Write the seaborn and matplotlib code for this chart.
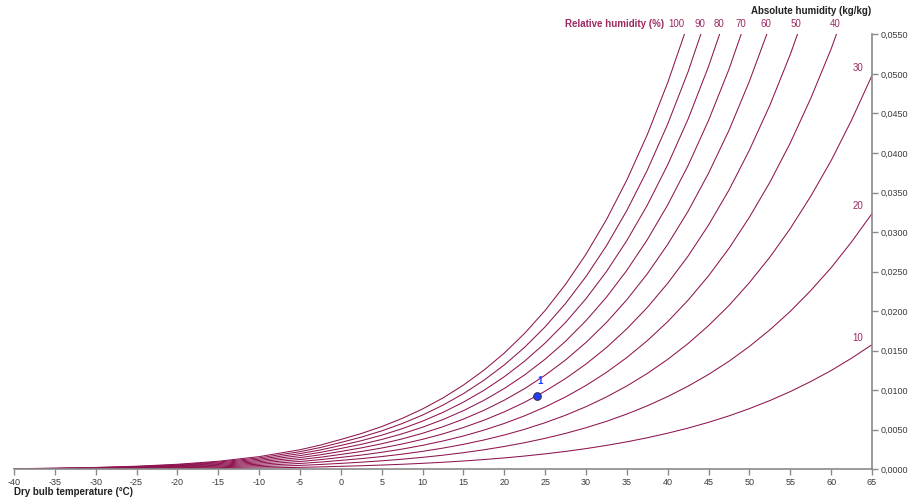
import matplotlib
matplotlib.use("Agg")
import matplotlib.pyplot as plt
import matplotlib.ticker as mticker
import seaborn as sns
import pandas as pd

# Dry bulb temperature (°C)
temps = [-40, -35, -30, -25, -20, -15, -10, -5, -2.5, 0, 2.5, 5, 7.5, 10, 12.5, 15, 17.5,
         20, 22.5, 25, 27.5, 30, 32.5, 35, 37.5, 40, 42.5, 45, 47.5, 50, 52.5, 55, 57.5,
         60, 62.5, 65]

# Absolute humidity (kg/kg) along each relative-humidity curve
rh_10 = [0.0000079, 0.0000137, 0.0000233, 0.0000389, 0.0000634, 0.0001015, 0.0001595,
         0.0002467, 0.0003049, 0.0003754, 0.0004494, 0.0005361, 0.0006372, 0.0007549,
         0.0008912, 0.0010489, 0.0012305, 0.0014393, 0.0016785,
         0.0019520, 0.0022629, 0.0026175, 0.0030189, 0.0034748, 0.0039879, 0.0045668,
         0.0052139, 0.0059431, 0.0067576, 0.0076761, 0.0086931, 0.0098293, 0.0110982,
         0.0124901, 0.0140551, 0.0157614]
rh_20 = [0.0000158, 0.0000274, 0.0000467, 0.0000778, 0.0001269, 0.0002030, 0.0003191,
         0.0004937, 0.0006101, 0.0007513, 0.0008995, 0.0010731, 0.0012758, 0.0015116,
         0.0017850, 0.0021013, 0.0024659, 0.0028853, 0.0033661,
         0.0039163, 0.0045423, 0.0052571, 0.0060672, 0.0069887, 0.0080273, 0.0092011,
         0.0105160, 0.0120010, 0.0136637, 0.0155440, 0.0176327, 0.0199743, 0.0225995,
         0.0254920, 0.0287600, 0.0323424]
rh_30 = [0.0000237, 0.0000411, 0.0000700, 0.0001166, 0.0001903, 0.0003046, 0.0004788,
         0.0007408, 0.0009155, 0.0011276, 0.0013502, 0.0016111, 0.0019156, 0.0022702,
         0.0026813, 0.0031572, 0.0037063, 0.0043380, 0.0050629,
         0.0058930, 0.0068385, 0.0079190, 0.0091454, 0.0105422, 0.0121191, 0.0139045,
         0.0159085, 0.0181768, 0.0207232, 0.0236110, 0.0268293, 0.0304503, 0.0345265,
         0.0390380, 0.0441610, 0.0498085]
rh_40 = [0.0000316, 0.0000548, 0.0000934, 0.0001555, 0.0002538, 0.0004062, 0.0006386,
         0.0009880, 0.0012213, 0.0015044, 0.0018016, 0.0021500, 0.0025568, 0.0030305,
         0.0035802, 0.0042168, 0.0049515, 0.0057975, 0.0067689,
         0.0078822, 0.0091515, 0.0106037, 0.0122540, 0.0141361, 0.0162645, 0.0186785,
         0.0213938, 0.0244741, 0.0279412, 0.0318848, 0.0362942, 0.0412740, 0.0469032,
         0.0531629, 0.0603086]
rh_50 = [0.0000394, 0.0000686, 0.0001167, 0.0001944, 0.0003172, 0.0005079, 0.0007985,
         0.0012356, 0.0015274, 0.0018817, 0.0022537, 0.0026899, 0.0031993, 0.0037928,
         0.0044818, 0.0052799, 0.0062017, 0.0072638, 0.0084842,
         0.0098841, 0.0114816, 0.0133114, 0.0153933, 0.0177711, 0.0204644, 0.0235248,
         0.0269741, 0.0308966, 0.0353232, 0.0403733, 0.0460394, 0.0524628, 0.0597554]
rh_60 = [0.0000473, 0.0000823, 0.0001401, 0.0002333, 0.0003807, 0.0006096, 0.0009585,
         0.0014833, 0.0018338, 0.0022594, 0.0027064, 0.0032306, 0.0038431, 0.0045569,
         0.0053858, 0.0063467, 0.0074569, 0.0087370, 0.0102089,
         0.0118987, 0.0138290, 0.0160424, 0.0185638, 0.0214479, 0.0247199, 0.0284449,
         0.0326522, 0.0374479, 0.0428748, 0.0490853, 0.0560774]
rh_70 = [0.0000552, 0.0000960, 0.0001634, 0.0002721, 0.0004441, 0.0007113, 0.0011185,
         0.0017313, 0.0021404, 0.0026375, 0.0031598, 0.0037723, 0.0044883, 0.0053229,
         0.0062925, 0.0074171, 0.0087172, 0.0102171, 0.0119430,
         0.0139263, 0.0161938, 0.0187969, 0.0217660, 0.0251672, 0.0290322, 0.0334406,
         0.0384305, 0.0441321, 0.0506019, 0.0580293]
rh_80 = [0.0000631, 0.0001097, 0.0001868, 0.0003110, 0.0005076, 0.0008130, 0.0012786,
         0.0019794, 0.0024474, 0.0030161, 0.0036138, 0.0043149, 0.0051346, 0.0060908,
         0.0072018, 0.0084912, 0.0099825, 0.0117042, 0.0136867,
         0.0159668, 0.0185763, 0.0215753, 0.0250004, 0.0289297, 0.0334023, 0.0385136,
         0.0443116, 0.0509531, 0.0585108]
rh_90 = [0.0000710, 0.0001234, 0.0002101, 0.0003499, 0.0005710, 0.0009147, 0.0014390,
         0.0022277, 0.0027547, 0.0033952, 0.0040684, 0.0048586, 0.0057825, 0.0068604,
         0.0081139, 0.0095689, 0.0112529, 0.0131982, 0.0154400,
         0.0180205, 0.0209767, 0.0243779, 0.0282675, 0.0327363, 0.0378316, 0.0436658,
         0.0502984, 0.0579153]
rh_100 = [0.0000789, 0.0001371, 0.0002335, 0.0003888, 0.0006345, 0.0010164, 0.0015995,
          0.0024761, 0.0030623, 0.0037748, 0.0045238, 0.0054030, 0.0064316, 0.0076321,
          0.0090285, 0.0106503, 0.0125284, 0.0146994, 0.0172030,
          0.0200874, 0.0233951, 0.0272050, 0.0315677, 0.0365877, 0.0423212, 0.0488989,
          0.0563939]

rh_levels = [10, 20, 30, 40, 50, 60, 70, 80, 90, 100]
rh_curves = [rh_10, rh_20, rh_30, rh_40, rh_50, rh_60, rh_70, rh_80, rh_90, rh_100]

# State point
point_temp = [24]
point_hum = [0.0093]
point_label = ["1"]

x_ticks = list(range(-40, 66, 5))
y_ticks = [0.0, 0.005, 0.01, 0.015, 0.02, 0.025, 0.03, 0.035, 0.04, 0.045, 0.05, 0.055]

LINE = "#8e1450"
LABEL = "#9b2a63"
AXIS = "#8a8a8a"
TXT = "#3a3a3a"

sns.set_theme(style="white")
plt.rcParams["font.family"] = ["Liberation Sans", "DejaVu Sans"]

fig = plt.figure(figsize=(9.08, 5.0), dpi=100)
ax = fig.add_axes([14 / 908, 1 - 469.3 / 500, (872 - 14) / 908, (469.3 - 34.4) / 500])

rows = []
for lvl, vals in zip(rh_levels, rh_curves):
    for t, w in zip(temps, vals):
        rows.append({"T": t, "W": w, "RH": lvl})
df = pd.DataFrame(rows)
sns.lineplot(data=df, x="T", y="W", hue="RH", palette=[LINE] * len(rh_levels),
             legend=False, linewidth=0.75, ax=ax, sort=False, estimator=None)

sns.scatterplot(x=point_temp, y=point_hum, ax=ax, s=30, color="#1f3dff",
                edgecolor="#333355", linewidth=0.8, zorder=5)
for t, w, lab in zip(point_temp, point_hum, point_label):
    ax.annotate(lab, (t, w), xytext=(2, 7), textcoords="offset points",
                color="#1f3dff", fontsize=7, fontweight="bold", ha="center", va="bottom")

ax.set_xlim(-40, 65)
ax.set_ylim(0, 0.055)

# Spines
for s in ["left", "top"]:
    ax.spines[s].set_visible(False)
for s in ["right", "bottom"]:
    ax.spines[s].set_visible(True)
    ax.spines[s].set_color(AXIS)
    ax.spines[s].set_linewidth(1.2)

ax.yaxis.tick_right()
ax.set_xticks(x_ticks)
ax.set_yticks(y_ticks)
ax.xaxis.set_major_formatter(mticker.FuncFormatter(lambda v, p: f"{v:g}"))
ax.yaxis.set_major_formatter(mticker.FuncFormatter(lambda v, p: f"{v:.4f}".replace(".", ",")))
ax.tick_params(axis="x", bottom=True, direction="out", length=4, width=1, color=AXIS,
               labelsize=6.5, labelcolor=TXT, pad=2)
ax.tick_params(axis="y", right=True, left=False, direction="out", length=4, width=1,
               color=AXIS, labelsize=6.5, labelcolor=TXT, pad=2)
ax.grid(False)
ax.set_xlabel("")
ax.set_ylabel("")

# Axis titles
fig.text(14 / 908, 1 - 492 / 500, "Dry bulb temperature (°C)", fontsize=7,
         fontweight="bold", color="#222222", ha="left", va="center")
ax.text(57.55, 0.05795, "Absolute humidity (kg/kg)", fontsize=7, fontweight="bold",
        color="#222222", ha="center", va="center", clip_on=False)
ax.text(39.5, 0.0563, "Relative humidity (%)", fontsize=7, fontweight="bold",
        color=LABEL, ha="right", va="center", clip_on=False)

# RH curve labels at the top
top_label_x = {100: 41.0, 90: 44.0, 80: 46.3, 70: 48.9, 60: 52.0, 50: 55.7, 40: 60.45}
for lvl, xv in top_label_x.items():
    ax.text(xv, 0.0563, str(lvl), fontsize=7, color=LABEL, ha="center", va="center",
            clip_on=False)
# RH labels at the right edge
for lvl, vals in zip(rh_levels, rh_curves):
    if lvl in (10, 20, 30):
        ax.text(63.3, vals[-1] + 0.0009, str(lvl), fontsize=7, color=LABEL,
                ha="center", va="center", clip_on=False)

fig.savefig("out.png", dpi=100, facecolor="white")
